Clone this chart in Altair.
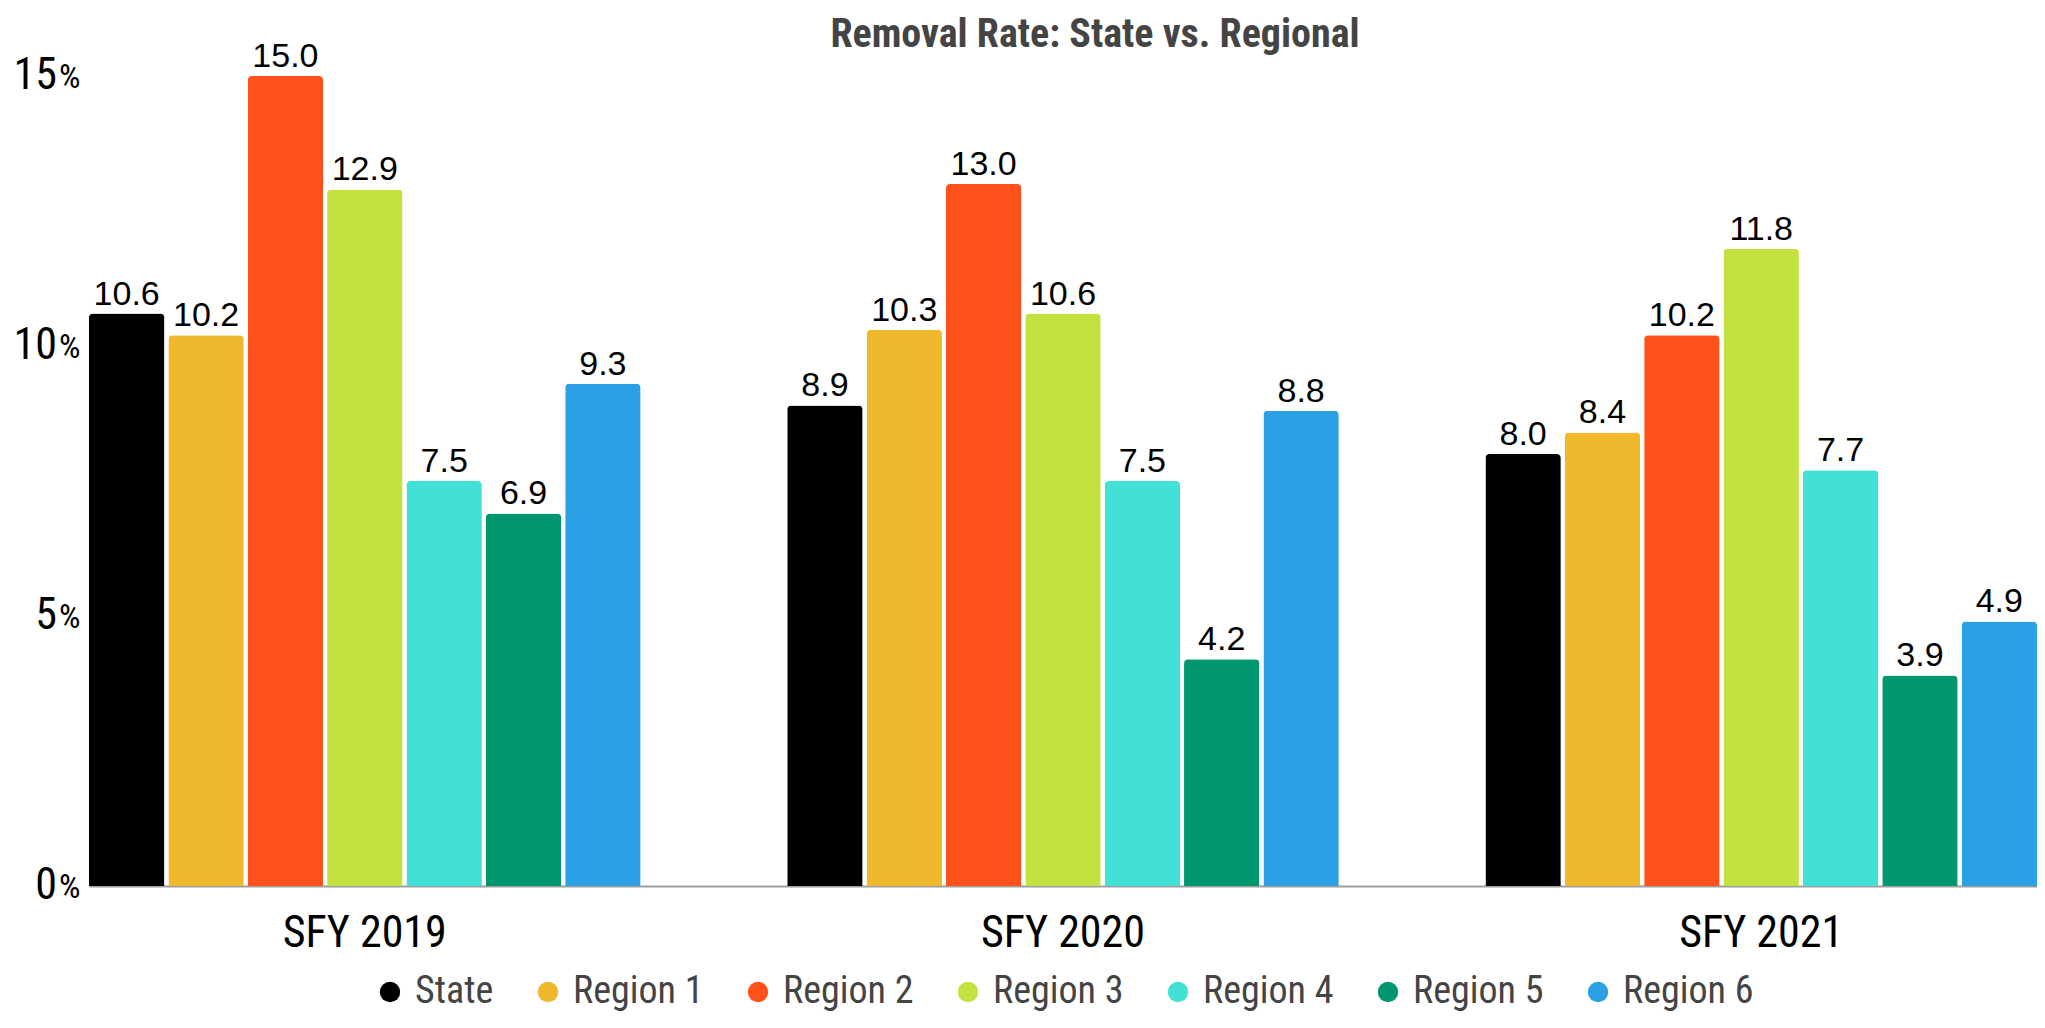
import altair as alt
import pandas as pd

years = ["SFY 2019", "SFY 2020", "SFY 2021"]
series = ["State", "Region 1", "Region 2", "Region 3", "Region 4", "Region 5", "Region 6"]
state = [10.6, 8.9, 8.0]
region1 = [10.2, 10.3, 8.4]
region2 = [15.0, 13.0, 10.2]
region3 = [12.9, 10.6, 11.8]
region4 = [7.5, 7.5, 7.7]
region5 = [6.9, 4.2, 3.9]
region6 = [9.3, 8.8, 4.9]
colors = ["#000000", "#F0B92D", "#FF5119", "#C2E23F", "#43E0D8", "#00966E", "#2CA0E4"]
y_ticks = [0, 5, 10, 15]
y_tick_text = ["0", "5", "10", "15"]

rows = []
for s, vals in zip(series, [state, region1, region2, region3, region4, region5, region6]):
    for yr, v in zip(years, vals):
        rows.append({"year": yr, "series": s, "value": v})
df = pd.DataFrame(rows)
ticks_df = pd.DataFrame({"tick": y_ticks, "num": y_tick_text})

COND = "Roboto Condensed, Liberation Sans Narrow, DejaVu Sans Condensed, sans-serif"
LAB = "Liberation Sans, Arial, sans-serif"

x = alt.X(
    "year:N", sort=years,
    scale=alt.Scale(paddingInner=0.21, paddingOuter=0),
    axis=alt.Axis(title=None, labelAngle=0, labelFont=COND, labelFontSize=44,
                  labelColor="#000000", labelPadding=25, ticks=False, tickSize=0,
                  domainColor="#9e9e9e", domainWidth=2, grid=False),
)
xo = alt.XOffset("series:N", sort=series, scale=alt.Scale(paddingInner=0.05, paddingOuter=0))
y = alt.Y(
    "value:Q", scale=alt.Scale(domain=[0, 15], nice=False),
    axis=alt.Axis(title=None, values=y_ticks, labels=False, ticks=False, domain=False,
                  gridColor="#cccccc", gridWidth=1),
)

bars = alt.Chart(df).mark_bar(cornerRadiusTopLeft=4, cornerRadiusTopRight=4).encode(
    x=x, xOffset=xo, y=y,
    color=alt.Color(
        "series:N", sort=series,
        scale=alt.Scale(domain=series, range=colors),
        legend=alt.Legend(title=None, orient="none", direction="horizontal", columns=7,
                          legendX=282, legendY=897, symbolType="circle", symbolSize=415,
                          symbolStrokeWidth=0, labelFont=COND, labelFontSize=38,
                          labelColor="#444444", labelOffset=6, columnPadding=35, padding=0),
    ),
)

labels = alt.Chart(df).mark_text(baseline="alphabetic", dy=-9, font=LAB, fontSize=34, color="#000000").encode(
    x=x, xOffset=xo, y=y, text=alt.Text("value:Q", format=".1f")
)

ynum = alt.Chart(ticks_df).mark_text(align="right", baseline="middle", font=COND, fontSize=44, color="#000000").encode(
    x=alt.value(-32), y=alt.Y("tick:Q", axis=None), text="num:N"
)
ypct = alt.Chart(ticks_df).mark_text(align="left", baseline="middle", dy=2, font=COND, fontSize=34, color="#000000", text="%").encode(
    x=alt.value(-30), y=alt.Y("tick:Q", axis=None)
)

chart = alt.layer(bars, labels, ynum, ypct).properties(
    width=1948, height=810,
    title=alt.TitleParams("Removal Rate: State vs. Regional", font=COND, fontSize=40,
                          fontWeight="bold", color="#444444", anchor="middle", dx=32, offset=-15),
    autosize=alt.AutoSizeParams(type="none"),
    padding={"left": 81, "top": 68, "right": 0, "bottom": 129},
).configure_view(stroke=None)

chart.save("out.html", embed_options={"renderer": "svg", "actions": False})
